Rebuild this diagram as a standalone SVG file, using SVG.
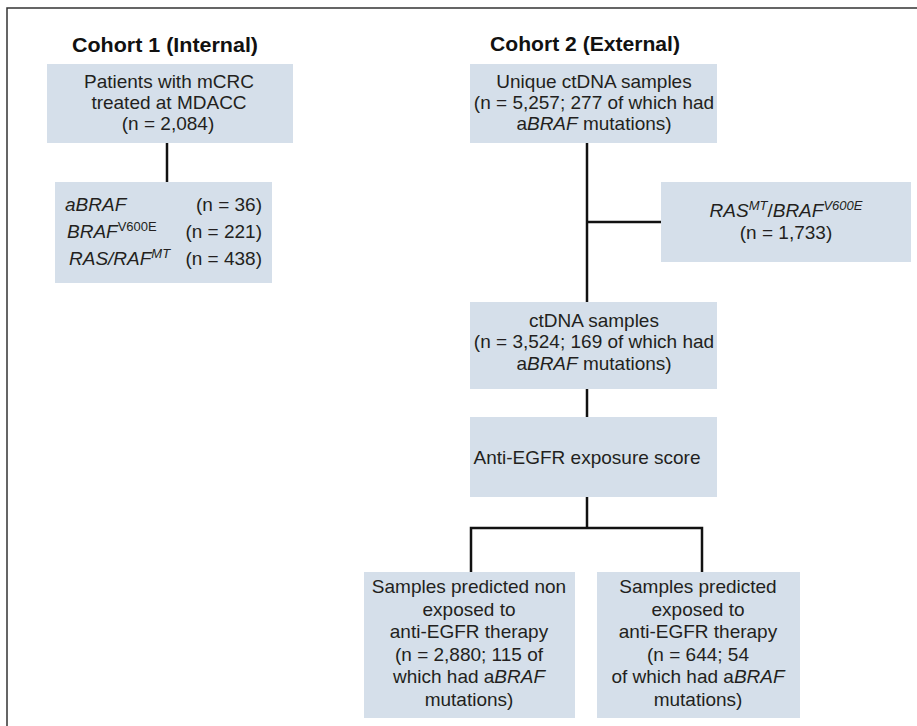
<svg xmlns="http://www.w3.org/2000/svg" width="917" height="726" viewBox="0 0 917 726">
<style>
.box{fill:#d5dfea}
.t{font-family:"Liberation Sans",Arial,sans-serif;font-size:19px;fill:#231f20}
.c{text-anchor:middle}
.e{text-anchor:end}
.i{font-style:italic}
.h{font-family:"Liberation Sans",Arial,sans-serif;font-size:21px;font-weight:bold;fill:#111}
.ln{stroke:#111;stroke-width:2.5;fill:none}
.frame{stroke:#333;stroke-width:1.5;fill:none}
</style>
<rect width="917" height="726" fill="#fff"/>
<path class="frame" d="M7,726 V8 H917"/>
<text class="h" x="72" y="52" textLength="186" lengthAdjust="spacingAndGlyphs">Cohort 1 (Internal)</text>
<text class="h" x="490" y="51" textLength="190" lengthAdjust="spacingAndGlyphs">Cohort 2 (External)</text>
<g id="connectors">
<path class="ln" d="M167,143 V182"/>
<path class="ln" d="M587,143 V302"/>
<path class="ln" d="M587,222 H661"/>
<path class="ln" d="M587,389 V417"/>
<path class="ln" d="M587,497 V528"/>
<path class="ln" d="M471,572 V528 H702 V572"/>
</g>
<g id="n1">
<rect class="box" x="47" y="64" width="246" height="79"/>
<text class="t c" x="169" y="88">Patients with mCRC</text>
<text class="t c" x="169" y="109">treated at MDACC</text>
<text class="t c" x="168" y="130">(n = 2,084)</text>
</g>
<g id="n2">
<rect class="box" x="55" y="182" width="217" height="101"/>
<text class="t i" x="65" y="211">aBRAF</text>
<text class="t e" x="262" y="211">(n = 36)</text>
<text class="t" x="67" y="238"><tspan class="i">BRAF</tspan><tspan font-size="13" dy="-7">V600E</tspan></text>
<text class="t e" x="262" y="238">(n = 221)</text>
<text class="t" x="69" y="265"><tspan class="i">RAS/RAF</tspan><tspan class="i" font-size="13" dy="-7">MT</tspan></text>
<text class="t e" x="262" y="265">(n = 438)</text>
</g>
<g id="n3">
<rect class="box" x="470" y="64" width="247" height="79"/>
<text class="t c" x="594" y="88">Unique ctDNA samples</text>
<text class="t c" x="594" y="109">(n = 5,257; 277 of which had</text>
<text class="t c" x="594" y="130">a<tspan class="i">BRAF</tspan> mutations)</text>
</g>
<g id="n4">
<rect class="box" x="661" y="182" width="250" height="80"/>
<text class="t c" x="786" y="217"><tspan class="i">RAS</tspan><tspan class="i" font-size="13" dy="-7">MT</tspan><tspan dy="7">/</tspan><tspan class="i">BRAF</tspan><tspan class="i" font-size="13" dy="-7">V600E</tspan></text>
<text class="t c" x="786" y="239">(n = 1,733)</text>
</g>
<g id="n5">
<rect class="box" x="470" y="302" width="247" height="87"/>
<text class="t c" x="594" y="327">ctDNA samples</text>
<text class="t c" x="594" y="348">(n = 3,524; 169 of which had</text>
<text class="t c" x="594" y="370">a<tspan class="i">BRAF</tspan> mutations)</text>
</g>
<g id="n6">
<rect class="box" x="470" y="417" width="247" height="80"/>
<text class="t c" x="587" y="464">Anti-EGFR exposure score</text>
</g>
<g id="n7">
<rect class="box" x="364" y="572" width="211" height="146"/>
<text class="t c" x="469" y="593">Samples predicted non</text>
<text class="t c" x="469" y="616">exposed to</text>
<text class="t c" x="469" y="638">anti-EGFR therapy</text>
<text class="t c" x="469" y="661">(n = 2,880; 115 of</text>
<text class="t c" x="469" y="683">which had a<tspan class="i">BRAF</tspan></text>
<text class="t c" x="469" y="706">mutations)</text>
</g>
<g id="n8">
<rect class="box" x="597" y="572" width="203" height="146"/>
<text class="t c" x="698" y="593">Samples predicted</text>
<text class="t c" x="698" y="616">exposed to</text>
<text class="t c" x="698" y="638">anti-EGFR therapy</text>
<text class="t c" x="698" y="661">(n = 644; 54</text>
<text class="t c" x="698" y="683">of which had a<tspan class="i">BRAF</tspan></text>
<text class="t c" x="698" y="706">mutations)</text>
</g>
</svg>
